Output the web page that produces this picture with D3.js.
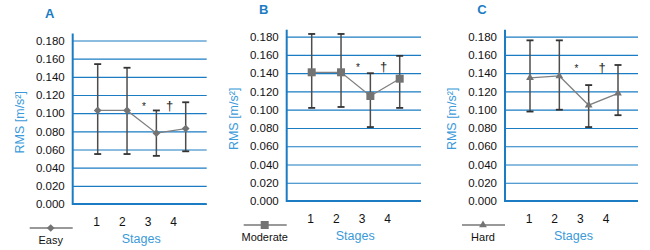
<!DOCTYPE html>
<html>
<head>
<meta charset="utf-8">
<script src="https://cdn.jsdelivr.net/npm/d3@7"></script>
<style>
body { margin: 0; background: #fff; }
text { font-family: "Liberation Sans", Arial, sans-serif; }
</style>
</head>
<body>
<svg width="650" height="250"></svg>
<script>
const stages = ["1", "2", "3", "4"]
const yTicks = [0, 0.02, 0.04, 0.06, 0.08, 0.10, 0.12, 0.14, 0.16, 0.18]
const panelNames = ["A", "B", "C"]
const levelNames = ["Easy", "Moderate", "Hard"]

const easyMean = [0.103, 0.103, 0.078, 0.083]
const easyUpper = [0.154, 0.150, 0.103, 0.112]
const easyLower = [0.055, 0.055, 0.053, 0.058]

const moderateMean = [0.141, 0.141, 0.115, 0.134]
const moderateUpper = [0.183, 0.183, 0.140, 0.159]
const moderateLower = [0.102, 0.103, 0.081, 0.102]

const hardMean = [0.135, 0.137, 0.105, 0.118]
const hardUpper = [0.176, 0.176, 0.127, 0.149]
const hardLower = [0.098, 0.100, 0.081, 0.094]

// significance marks above stage 3 and 4
const sigMarks = ["*", "†"]
const sigLevel = [0.104, 0.142, 0.141]

const means = [easyMean, moderateMean, hardMean]
const uppers = [easyUpper, moderateUpper, hardUpper]
const lowers = [easyLower, moderateLower, hardLower]

const blue = "#1b7cc4"
const lightBlue = "#3b9ad9"

// panel placement
const layout = [
    {x: 72.7, top: 40.5, bottom: 204, width: 134, shape: "diamond"},
    {x: 286.7, top: 36.7, bottom: 201, width: 134.3, shape: "square"},
    {x: 505, top: 36.7, bottom: 201, width: 133, shape: "triangle"}
]

const svg = d3.select("svg")

function drawPanel(p){
    const L = layout[p]
    const g = svg.append("g").attr("transform", `translate(${L.x}, 0)`)

    const y = d3.scaleLinear().domain([0, 0.18]).range([L.bottom, L.top])
    const x = d3.scalePoint().domain(stages).range([25, 113])
    const xLabel = d3.scalePoint().domain(stages).range([24, 101])

    // grid + tick labels
    const yAxis = g.append("g")
        .call(d3.axisLeft(y).tickValues(yTicks).tickSize(-L.width).tickPadding(8).tickFormat(d3.format(".3f")))
    yAxis.select(".domain").remove()
    yAxis.selectAll("line").attr("stroke", blue).attr("stroke-width", 1.2)
    yAxis.selectAll("text")
        .attr("font-size", "11.5px")
        .attr("fill", "#111")
        .attr("font-family", "'Liberation Sans', Arial, sans-serif")

    // axis lines
    g.append("line")
        .attr("x1", 0).attr("x2", 0)
        .attr("y1", L.top - 7).attr("y2", L.bottom + 1)
        .attr("stroke", blue).attr("stroke-width", 2)
    g.append("line")
        .attr("x1", 0).attr("x2", L.width)
        .attr("y1", L.bottom).attr("y2", L.bottom)
        .attr("stroke", blue).attr("stroke-width", 2)

    // title
    g.append("text")
        .attr("x", -23).attr("y", L.top - 22.5)
        .attr("text-anchor", "middle")
        .attr("font-size", "13px").attr("font-weight", "bold")
        .attr("fill", blue)
        .text(panelNames[p])

    // y label
    g.append("text")
        .attr("transform", `translate(${-49}, ${(L.top + L.bottom) / 2}) rotate(-90)`)
        .attr("text-anchor", "middle")
        .attr("font-size", "12.5px")
        .attr("fill", lightBlue)
        .text("RMS [m/s²]")

    // stage labels
    g.selectAll("text.stage")
        .data(stages)
        .enter()
        .append("text")
        .attr("class", "stage")
        .attr("x", d => xLabel(d))
        .attr("y", L.bottom + 22)
        .attr("text-anchor", "middle")
        .attr("font-size", "12px")
        .attr("fill", "#111")
        .text(d => d)

    g.append("text")
        .attr("x", 68.5).attr("y", L.bottom + 39)
        .attr("text-anchor", "middle")
        .attr("font-size", "12.5px")
        .attr("fill", lightBlue)
        .text("Stages")

    const data = stages.map((s, i) => ({
        stage: s,
        mean: means[p][i],
        upper: uppers[p][i],
        lower: lowers[p][i]
    }))

    // error bars
    const bars = g.append("g").selectAll("g.bar")
        .data(data)
        .enter()
        .append("g")
        .attr("class", "bar")
    bars.append("line")
        .attr("x1", d => x(d.stage)).attr("x2", d => x(d.stage))
        .attr("y1", d => y(d.lower)).attr("y2", d => y(d.upper))
        .attr("stroke", "#4d4d4d").attr("stroke-width", 1.5)
    bars.selectAll("line.cap")
        .data(d => [d.lower, d.upper].map(v => ({stage: d.stage, v: v})))
        .enter()
        .append("line")
        .attr("class", "cap")
        .attr("x1", d => x(d.stage) - 3.5).attr("x2", d => x(d.stage) + 3.5)
        .attr("y1", d => y(d.v)).attr("y2", d => y(d.v))
        .attr("stroke", "#333").attr("stroke-width", 1.8)

    // mean line
    g.append("path")
        .datum(data)
        .attr("d", d3.line().x(d => x(d.stage)).y(d => y(d.mean)))
        .attr("fill", "none")
        .attr("stroke", "#808080")
        .attr("stroke-width", 1.3)

    const symbol = marker(L.shape)
    g.selectAll("path.point")
        .data(data)
        .enter()
        .append("path")
        .attr("class", "point")
        .attr("d", symbol.path)
        .attr("transform", d => `translate(${x(d.stage)}, ${y(d.mean)}) rotate(${symbol.rotate})`)
        .attr("fill", "#737373")

    // significance marks
    g.selectAll("text.sig")
        .data(sigMarks)
        .enter()
        .append("text")
        .attr("class", "sig")
        .attr("x", (d, i) => xLabel(stages[i + 2]) - 4)
        .attr("y", y(sigLevel[p]))
        .attr("text-anchor", "middle")
        .attr("font-size", (d, i) => i === 0 ? "10px" : "13px")
        .attr("fill", "#222")
        .text(d => d)

    // legend
    g.append("line")
        .attr("x1", -43).attr("x2", 0)
        .attr("y1", L.bottom + 24).attr("y2", L.bottom + 24)
        .attr("stroke", "#777").attr("stroke-width", 1.3)
    g.append("path")
        .attr("d", symbol.path)
        .attr("transform", `translate(-22, ${L.bottom + 24}) rotate(${symbol.rotate})`)
        .attr("fill", "#737373")
    g.append("text")
        .attr("x", -22).attr("y", L.bottom + 40)
        .attr("text-anchor", "middle")
        .attr("font-size", "11px")
        .attr("fill", "#111")
        .text(levelNames[p])
}

function marker(shape){
    if(shape === "diamond"){
        return {path: d3.symbol().type(d3.symbolSquare).size(30)(), rotate: 45}
    }
    if(shape === "square"){
        return {path: d3.symbol().type(d3.symbolSquare).size(64)(), rotate: 0}
    }
    return {path: d3.symbol().type(d3.symbolTriangle).size(26)(), rotate: 0}
}

panelNames.forEach((n, p) => drawPanel(p))
</script>
</body>
</html>
